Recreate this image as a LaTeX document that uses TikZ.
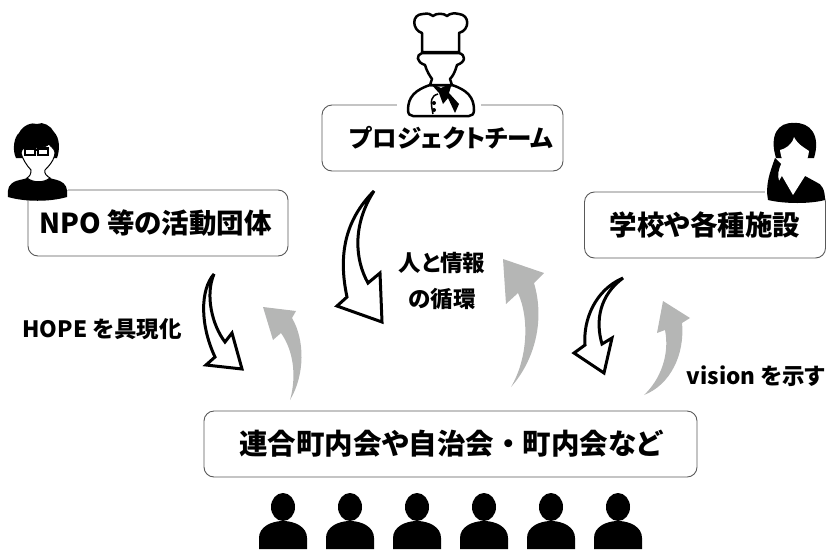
\documentclass[tikz,border=0pt]{standalone}
\usepackage{fontspec}
\setmainfont{Noto Sans CJK JP}[RawFeature=+palt]
\usepackage{xcolor}
\definecolor{boxline}{HTML}{595959}
\definecolor{backarrow}{HTML}{B5B6B5}
\tikzset{
	orgbox/.style={draw=boxline,line width=0.9pt,rounded corners=10pt,fill=white,inner sep=0pt,minimum height=66pt,font=\fontsize{27.5}{32}\selectfont\bfseries},
	lbl/.style={font=\fontsize{22.5}{26}\selectfont\bfseries,inner sep=0pt},
	goarrow/.style={draw=black,line width=3pt,fill=white,line join=miter,miter limit=4},
	backflow/.style={fill=backarrow},
	figline/.style={draw=black,line width=2.5pt,fill=white,line join=round},
	figfill/.style={fill=black,line join=round}
}
\begin{document}
\begin{tikzpicture}[x=1pt,y=-1pt]
		\useasboundingbox (0,0) rectangle (826,549);
		% boxes
		\node [orgbox,minimum width=241pt] (team) at (442.5,138) {\hspace{18pt}\raisebox{-1pt}{\fontsize{24.5}{28}\selectfont プロジェクトチーム}};
		\node [orgbox,minimum width=260pt] (npo) at (158,223) {\hspace{-5pt}NPO 等の活動団体};
		\node [orgbox,minimum width=241pt] (school) at (705,225) {学校や各種施設};
		\node [orgbox,minimum width=493pt] (town) at (450.5,444) {\raisebox{-1pt}{\fontsize{28.5}{32}\selectfont 連合町内会や自治会\makebox[28.5pt]{・}町内会など}};
		% labels
		\node [lbl] (hope) at (102,329) {HOPE を具現化};
		\node [lbl] (vision) at (756,376) {vision を示す};
		\node [lbl] (loopa) at (442,263) {人と情報};
		\node [lbl] (loopb) at (442,299) {の循環};
		% arrows down
		\draw [goarrow] (214,274) .. controls (200,290) and (200,325) .. (215,357) -- (206,365) -- (242,369) -- (232,333) -- (225,342) .. controls (212,325) and (205,295) .. cycle;
		\draw [goarrow] (374,191) .. controls (345,220) and (338,255) .. (347,297) -- (337,306) -- (382,322) -- (380,273) -- (368,283) .. controls (355,260) and (352,225) .. cycle;
		\draw [goarrow] (623,278) .. controls (595,290) and (583,320) .. (585,345) -- (574,353) -- (604,373) -- (612,338) -- (602,344) .. controls (595,320) and (600,295) .. cycle;
		% arrows up
		\fill [backflow] (290,400) .. controls (305,375) and (305,340) .. (292,318) -- (296,311) -- (263,307) -- (273,340) -- (281,333) .. controls (293,350) and (297,375) .. cycle;
		\fill [backflow] (511,387) .. controls (535,360) and (545,320) .. (534,283) -- (544,273) -- (503,259) -- (506,304) -- (518,293) .. controls (530,320) and (527,360) .. cycle;
		\fill [backflow] (644,395) .. controls (670,385) and (685,355) .. (682,323) -- (690,318) -- (663,301) -- (657,333) -- (665,330) .. controls (670,355) and (660,380) .. cycle;
		% chef
		\fill [white] (397,88) rectangle (481,118);
		\draw [figline] (430,85) .. controls (415,90) and (408,97) .. (408,110) .. controls (408,114) and (410,116) .. (413,116) -- (469,116) .. controls (472,116) and (474,114) .. (474,110) .. controls (474,97) and (467,90) .. (452,85) -- cycle;
		\draw [figline] (422,53) .. controls (416,55) and (416,62) .. (425,65) .. controls (427,72) and (430,76) .. (432,79) -- (430,85) -- (452,85) -- (450,79) .. controls (453,76) and (455,72) .. (457,65) .. controls (466,62) and (466,55) .. (459,53) -- cycle;
		\draw [figline] (422,52) -- (422,33) .. controls (412,30) and (411,14) .. (423,14) .. controls (428,13) and (431,14) .. (433,16) .. controls (436,13) and (444,13) .. (447,16) .. controls (450,13) and (455,13) .. (459,14) .. controls (470,15) and (470,30) .. (459,33) -- (459,52) -- cycle;
		\fill [figfill] (430,83) -- (441,88) -- (452,83) -- (449,93) -- (459,104) -- (455,113) -- (448,98) -- (443,104) -- (439,93) -- cycle;
		\draw [black,line width=1.5pt] (438,94) .. controls (431,96) and (430,100) .. (433,114);
		\foreach \bu in {103,110}
			\fill (434,\bu) circle (2pt);
		% man
		\fill [white] (0,120) rectangle (68,190);
		\fill [figfill] (8,197) .. controls (7,188) and (9,184) .. (16,181) .. controls (22,179) and (28,179) .. (30,176) -- (46,176) .. controls (50,179) and (55,179) .. (60,181) .. controls (66,184) and (68,188) .. (67,197) .. controls (50,202) and (25,202) .. (8,197) -- cycle;
		\fill [figfill] (16,158) .. controls (12,150) and (14,137) .. (19,133) .. controls (23,125) and (32,122) .. (37,124) .. controls (43,121) and (51,126) .. (54,132) .. controls (60,138) and (60,150) .. (57,158) -- cycle;
		\draw [black,line width=1pt,fill=white] (21,153) .. controls (22,149) and (23,148) .. (26,148) .. controls (34,148) and (44,149) .. (49,144) .. controls (50,146) and (54,148) .. (55,152) .. controls (55,160) and (48,167) .. (45,170) .. controls (44,174) and (47,176) .. (50,178) .. controls (44,183) and (33,183) .. (27,178) .. controls (30,176) and (31,174) .. (31,170) .. controls (27,166) and (22,158) .. cycle;
		\draw [black,line width=2.2pt] (25,148.5) rectangle (35,155) (38,148.5) rectangle (48,155) (35,150) -- (38,150);
		% woman
		\fill [white] (765,120) rectangle (826,195);
		\fill [figfill] (775,158) .. controls (770,172) and (765,185) .. (768,200) .. controls (785,204) and (810,204) .. (825,200) .. controls (825,190) and (822,184) .. (816,182) -- (805,176) -- (782,176) -- (779,181) .. controls (777,175) and (779,168) .. (781,164) -- cycle;
		\fill [figfill] (776,158) .. controls (769,135) and (778,122) .. (794,123) .. controls (810,122) and (821,135) .. (814,158) -- cycle;
		\fill [white] (780,150) .. controls (785,149) and (792,145) .. (794,137) .. controls (798,145) and (805,148) .. (809,151) .. controls (808,160) and (804,166) .. (802,170) -- (805,176) -- (793,195) -- (782,176) -- (787,170) .. controls (784,165) and (781,158) .. cycle;
		% people
		\foreach \px in {283,350,417,484,551,618}{
			\fill (\px,507) ellipse (12pt and 14pt);
			\fill (\px-24,549) -- (\px-24,538) .. controls (\px-24,527) and (\px-12,521) .. (\px,521) .. controls (\px+12,521) and (\px+24,527) .. (\px+24,538) -- (\px+24,549) -- cycle;
		}
	\end{tikzpicture}
\end{document}
